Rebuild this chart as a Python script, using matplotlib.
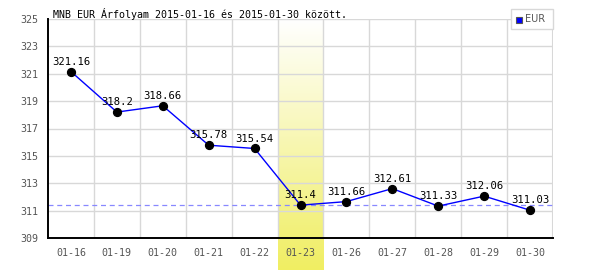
import numpy as np
import matplotlib
matplotlib.use('Agg')
import matplotlib.pyplot as plt
from matplotlib.colors import LinearSegmentedColormap
from matplotlib.patches import Rectangle

DATES = ['01-16', '01-19', '01-20', '01-21', '01-22', '01-23',
         '01-26', '01-27', '01-28', '01-29', '01-30']
RATES = [321.16, 318.2, 318.66, 315.78, 315.54, 311.4,
         311.66, 312.61, 311.33, 312.06, 311.03]
LABELS = ['321.16', '318.2', '318.66', '315.78', '315.54', '311.4',
          '311.66', '312.61', '311.33', '312.06', '311.03']
HIGHLIGHT = '01-23'
REF_LINE = 311.4
Y_TICKS = [309, 311, 313, 315, 317, 319, 321, 323, 325]
TITLE = 'MNB EUR Árfolyam 2015-01-16 és 2015-01-30 között.'

MONO = 'DejaVu Sans Mono'

fig = plt.figure(figsize=(6, 2.7), dpi=100)
ax = fig.add_axes([48 / 600, 1 - 238 / 270, 505 / 600, 219 / 270])

n = len(DATES)
x = np.arange(n)
ax.set_xlim(-0.5, n - 0.5)
ax.set_ylim(309, 325)

# grid
for b in np.arange(0.5, n - 0.5, 1):
    ax.axvline(b, color='#d8d8d8', lw=1, zorder=1)
ax.axvline(n - 0.5, color='#d8d8d8', lw=1.5, zorder=1)
for t in Y_TICKS[1:]:
    ax.axhline(t, color='#d8d8d8', lw=1, zorder=1)

# highlighted day, gradient down past the axis
hi = DATES.index(HIGHLIGHT)
cmap = LinearSegmentedColormap.from_list('hl', ['#ffffff', '#f0ee62'])
grad = np.linspace(0, 1, 256).reshape(-1, 1)
y_bottom = 309 - (270 - 238) / 219 * 16
ax.imshow(grad, cmap=cmap, aspect='auto', origin='upper',
          extent=[hi - 0.5, hi + 0.5, y_bottom, 325],
          clip_on=False, zorder=0.5)

ax.axhline(REF_LINE, color='#8888ff', lw=0.9, ls=(0, (4, 3)), zorder=2)

ax.plot(x, RATES, color='#0000ff', lw=1, zorder=3)
ax.scatter(x, RATES, s=32, color='black', zorder=4)
for xi, yi, lab in zip(x, RATES, LABELS):
    ax.annotate(lab, (xi, yi), xytext=(0, 3.5), textcoords='offset points',
                ha='center', va='bottom', fontsize=7.6, family=MONO,
                color='black', zorder=5)

for side in ['top', 'right']:
    ax.spines[side].set_visible(False)
ax.spines['left'].set_linewidth(1.4)
ax.spines['bottom'].set_linewidth(1.4)

ax.set_xticks(x)
ax.set_xticklabels(DATES, family=MONO, fontsize=7.2, color='#555555')
ax.set_yticks(Y_TICKS)
ax.set_yticklabels([str(t) for t in Y_TICKS], family=MONO, fontsize=7.2,
                   color='#555555')
ax.tick_params(length=0, pad=7)

fig.text(53 / 600, 1 - 14 / 270, TITLE, family=MONO, fontsize=7.2,
         color='black', va='center', ha='left')

# legend box
fig.patches.append(Rectangle((511 / 600, 1 - 29 / 270), 42 / 600, 20 / 270,
                             transform=fig.transFigure, facecolor='white',
                             edgecolor='#d8d8d8', lw=1, zorder=5))
fig.patches.append(Rectangle((516 / 600, 1 - 23 / 270), 6 / 600, 6 / 270,
                             transform=fig.transFigure, facecolor='#0000ff',
                             edgecolor='#555555', lw=0.8, zorder=6))
fig.text(525 / 600, 1 - 19.5 / 270, 'EUR', fontsize=7, color='#555555',
         va='center', ha='left', zorder=7)

fig.savefig('out.png', dpi=100)
